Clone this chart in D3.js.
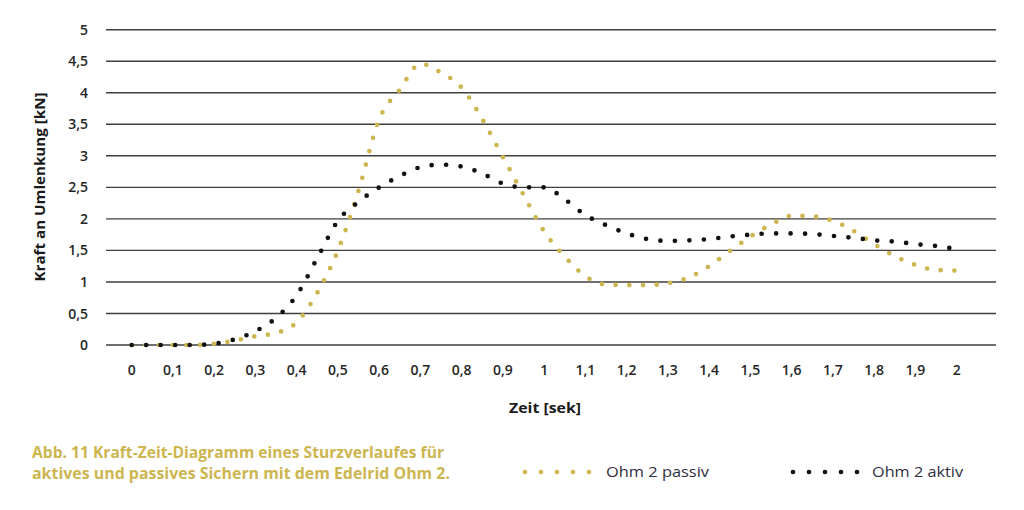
<!DOCTYPE html>
<html>
<head>
<meta charset="utf-8">
<script src="https://cdn.jsdelivr.net/npm/d3@7"></script>
<style>
  html, body { margin: 0; padding: 0; background: #fff; }
  svg { display: block; }
</style>
</head>
<body>
<svg id="chart" width="1024" height="510"></svg>
<script>
// ---- data ----
const time = [0,0.05,0.1,0.15,0.2,0.25,0.3,0.35,0.4,0.45,0.5,0.55,0.6,0.65,0.7,0.75,0.8,0.85,0.9,0.95,1.0,
              1.05,1.1,1.15,1.2,1.25,1.3,1.35,1.4,1.45,1.5,1.55,1.6,1.65,1.7,1.75,1.8,1.85,1.9,1.95,2.0];
const passiv = [0,0,0,0,0.02,0.07,0.14,0.19,0.36,0.83,1.50,2.45,3.58,4.05,4.46,4.32,4.08,3.58,2.98,2.38,1.80,
                1.40,1.09,0.96,0.95,0.95,0.98,1.07,1.25,1.49,1.72,1.91,2.05,2.04,1.97,1.81,1.60,1.41,1.27,1.19,1.18];
const aktiv = [0,0,0,0,0.02,0.09,0.22,0.43,0.79,1.38,1.97,2.27,2.50,2.68,2.82,2.86,2.83,2.72,2.56,2.50,2.50,
               2.31,2.06,1.90,1.77,1.68,1.65,1.66,1.68,1.72,1.75,1.77,1.77,1.76,1.73,1.70,1.66,1.64,1.60,1.57,1.52];
const xTicks = [0,0.1,0.2,0.3,0.4,0.5,0.6,0.7,0.8,0.9,1,1.1,1.2,1.3,1.4,1.5,1.6,1.7,1.8,1.9,2];
const yTicks = [0,0.5,1,1.5,2,2.5,3,3.5,4,4.5,5];
const seriesNames = ["Ohm 2 passiv", "Ohm 2 aktiv"];
const xTitle = "Zeit [sek]";
const yTitle = "Kraft an Umlenkung [kN]";
const caption = ["Abb. 11 Kraft-Zeit-Diagramm eines Sturzverlaufes für",
                 "aktives und passives Sichern mit dem Edelrid Ohm 2."];

// ---- styles ----
const GOLD = "#cdb550";
const BLACK = "#111111";
const FONT = "'Open Sans', 'Noto Sans', sans-serif";

const svg = d3.select("#chart");
const x = d3.scaleLinear().domain([0, 2]).range([131.7, 956.7]);
const y = d3.scaleLinear().domain([0, 5]).range([345, 29.7]);
const fmt = v => String(v).replace(".", ",");

// gridlines
svg.append("g").selectAll("line").data(yTicks).join("line")
  .attr("x1", 106).attr("x2", 996)
  .attr("y1", d => y(d)).attr("y2", d => y(d))
  .attr("stroke", "#3f3f3f").attr("stroke-width", 1.4);

// y tick labels
svg.append("g").selectAll("text").data(yTicks).join("text")
  .attr("x", 88).attr("y", d => y(d)).attr("dy", "0.36em")
  .attr("text-anchor", "end")
  .attr("font-family", FONT).attr("font-size", 14).attr("font-weight", 600)
  .attr("fill", "#262626")
  .text(fmt);

// x tick labels
svg.append("g").selectAll("text").data(xTicks).join("text")
  .attr("x", d => x(d)).attr("y", 370).attr("dy", "0.36em")
  .attr("text-anchor", "middle")
  .attr("font-family", FONT).attr("font-size", 14).attr("font-weight", 600)
  .attr("fill", "#262626")
  .text(fmt);

// axis titles
svg.append("text")
  .attr("x", 545).attr("y", 408).attr("dy", "0.36em")
  .attr("text-anchor", "middle")
  .attr("font-family", FONT).attr("font-size", 15).attr("font-weight", 700)
  .attr("fill", "#1a1a1a")
  .attr("textLength", 72).attr("lengthAdjust", "spacingAndGlyphs")
  .text(xTitle);

svg.append("text")
  .attr("transform", "translate(40,187) rotate(-90)")
  .attr("dy", "0.36em")
  .attr("text-anchor", "middle")
  .attr("font-family", FONT).attr("font-size", 15).attr("font-weight", 700)
  .attr("fill", "#1a1a1a")
  .attr("textLength", 189).attr("lengthAdjust", "spacingAndGlyphs")
  .text(yTitle);

// dotted series lines
const line = vals => d3.line()
  .x((d, i) => x(time[i]))
  .y(d => y(d))
  .curve(d3.curveMonotoneX)(vals);

svg.append("path")
  .attr("d", line(passiv))
  .attr("fill", "none").attr("stroke", GOLD)
  .attr("stroke-width", 4.7).attr("stroke-linecap", "round")
  .attr("stroke-dasharray", "0 13.7");

svg.append("path")
  .attr("d", line(aktiv))
  .attr("fill", "none").attr("stroke", BLACK)
  .attr("stroke-width", 4.7).attr("stroke-linecap", "round")
  .attr("stroke-dasharray", "0 14.5");

// caption
svg.append("g").selectAll("text").data(caption).join("text")
  .attr("x", 32).attr("y", (d, i) => 452 + i * 21).attr("dy", "0.36em")
  .attr("font-family", FONT).attr("font-size", 15.5).attr("font-weight", 700)
  .attr("fill", GOLD)
  .attr("textLength", (d, i) => i === 0 ? 412 : 418)
  .attr("lengthAdjust", "spacingAndGlyphs")
  .text(d => d);

// legend
const legend = [
  {name: seriesNames[0], color: GOLD, x0: 525, x1: 589, tx: 606, tw: 103},
  {name: seriesNames[1], color: BLACK, x0: 793, x1: 857, tx: 872, tw: 91}
];
const lg = svg.append("g").selectAll("g").data(legend).join("g");
lg.append("line")
  .attr("x1", d => d.x0).attr("x2", d => d.x1 + 0.1)
  .attr("y1", 472).attr("y2", 472)
  .attr("stroke", d => d.color).attr("stroke-width", 4.7)
  .attr("stroke-linecap", "round")
  .attr("stroke-dasharray", "0 16");
lg.append("text")
  .attr("x", d => d.tx).attr("y", 472).attr("dy", "0.36em")
  .attr("font-family", FONT).attr("font-size", 15)
  .attr("fill", "#2e2e3e")
  .attr("textLength", d => d.tw).attr("lengthAdjust", "spacingAndGlyphs")
  .text(d => d.name);
</script>
</body>
</html>
